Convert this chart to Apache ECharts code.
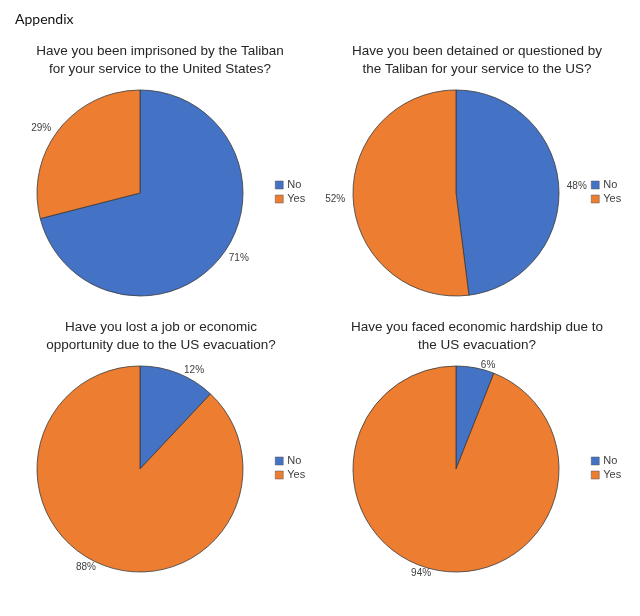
<!DOCTYPE html>
<html>
<head>
<meta charset="utf-8">
<script src="https://cdn.jsdelivr.net/npm/echarts@6/dist/echarts.min.js"></script>
<style>
html,body{margin:0;padding:0;background:#fff;}
#main{width:640px;height:616px;}
</style>
</head>
<body>
<div id="main"></div>
<script>
const categories = ['No', 'Yes'];
const titles = [
  'Have you been imprisoned by the Taliban\nfor your service to the United States?',
  'Have you been detained or questioned by\nthe Taliban for your service to the US?',
  'Have you lost a job or economic\nopportunity due to the US evacuation?',
  'Have you faced economic hardship due to\nthe US evacuation?'
];
const imprisoned = [71, 29];
const detained = [48, 52];
const lostJob = [12, 88];
const hardship = [6, 94];
const seriesValues = [imprisoned, detained, lostJob, hardship];

const colors = ['#4472C4', '#ED7D31'];
const centers = [[140, 193], [456, 193], [140, 469], [456, 469]];
const titlePos = [[160, 42], [477, 42], [161, 318], [477, 318]];
const legendPos = [[275, 179], [591, 179], [275, 455], [591, 455]];
const FONT = "'Liberation Sans', Arial, sans-serif";

const chart = echarts.init(document.getElementById('main'), null, {renderer: 'canvas'});

const option = {
  animation: false,
  color: colors,
  title: [{
    text: 'Appendix', left: 10, top: 7,
    textStyle: {fontFamily: 'Lato', fontSize: 14, fontWeight: 'normal', color: '#111'}
  }].concat(titles.map((t, i) => ({
    text: t, left: titlePos[i][0], top: titlePos[i][1], textAlign: 'center', padding: 0,
    textStyle: {fontFamily: FONT, fontSize: 13.5, fontWeight: 'normal', color: '#262626', lineHeight: 18}
  }))),
  legend: legendPos.map(p => ({
    data: categories, orient: 'vertical', left: p[0], top: p[1], padding: 0,
    itemWidth: 8, itemHeight: 8, itemGap: 2, icon: 'rect', selectedMode: false,
    textStyle: {fontFamily: FONT, fontSize: 11, color: '#404040', padding: [0, 0, 0, -1], lineHeight: 12},
    itemStyle: {borderColor: '#555', borderWidth: 0.5}
  })),
  series: seriesValues.map((vals, i) => ({
    type: 'pie',
    center: centers[i],
    radius: 103,
    startAngle: 90,
    clockwise: true,
    data: categories.map((c, j) => ({name: c, value: vals[j]})),
    itemStyle: {borderColor: '#3a3a3a', borderWidth: 0.8},
    label: {
      show: true, position: 'outside', formatter: '{c}%',
      fontFamily: FONT, fontSize: 10, color: '#404040'
    },
    labelLine: {show: false, length: 3, length2: 0},
    emphasis: {disabled: true}
  }))
};
chart.setOption(option);
</script>
</body>
</html>
